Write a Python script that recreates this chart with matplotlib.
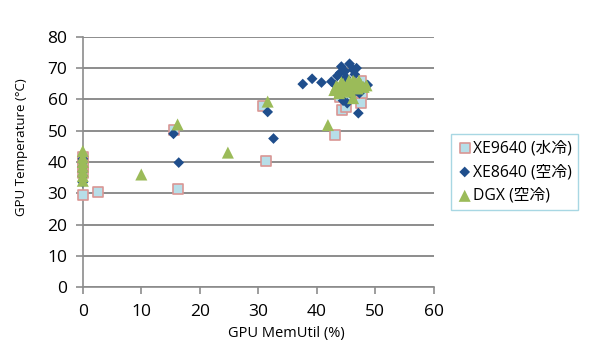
import matplotlib.pyplot as plt

plt.rcParams['font.family'] = ['Open Sans', 'Noto Sans CJK JP', 'DejaVu Sans']

# XE9640 (water cooled)
xe9640_x = [0, 0, 0, 0, 0, 2.6, 15.6, 16.3, 30.8, 31.3, 43.1, 44.3, 45.0, 43.9, 47.6, 47.8, 47.5, 44.8, 46.5, 45.5]
xe9640_y = [29.5, 38.5, 40.0, 41.5, 36.5, 30.3, 50.2, 31.5, 57.9, 40.3, 48.6, 56.6, 57.5, 60.9, 59.0, 62.2, 66.0, 64.0, 63.0, 61.5]

# XE8640 (air cooled)
xe8640_x = [0, 0, 0, 0, 0, 0, 15.5, 16.4, 31.6, 32.6, 37.6, 39.2, 40.8, 42.5, 43.5, 44.2, 44.8, 45.6, 46.2,
            46.8, 47.3, 47.1, 48.7, 44.5, 45.2, 46.0, 43.8, 47.8, 45.0, 46.5, 44.0, 43.2]
xe8640_y = [33.5, 35.5, 37.0, 38.5, 40.0, 41.0, 49.0, 39.8, 56.0, 47.5, 64.9, 66.6, 65.4, 65.7, 67.5, 70.5, 69.0, 71.4, 69.5,
            70.0, 62.0, 55.6, 64.6, 59.6, 58.8, 61.5, 63.5, 64.0, 67.0, 68.0, 68.5, 64.5]

# DGX (air cooled)
dgx_x = [0, 0, 0, 0, 0, 0, 0, 10.0, 16.2, 24.8, 31.6, 41.9, 43.0, 43.5, 44.0, 44.5, 45.0, 45.5, 46.0, 46.5,
         47.0, 47.5, 48.0, 48.5, 44.2, 45.2, 46.2, 47.2, 43.8, 45.8, 46.2, 44.8, 46.8, 43.3]
dgx_y = [43.5, 41.5, 40.0, 38.5, 37.0, 35.5, 34.0, 36.0, 52.0, 43.0, 59.3, 51.8, 63.0, 64.0, 62.5, 65.0, 63.5, 66.0, 64.5, 65.5,
         63.5, 65.0, 64.0, 64.5, 65.5, 64.5, 66.0, 66.0, 62.0, 62.5, 60.4, 63.0, 64.8, 64.2]

fig = plt.figure(figsize=(6.0, 3.51), dpi=100)
ax = fig.add_axes([0.138, 0.182, 0.585, 0.713])

ax.scatter(xe9640_x, xe9640_y, marker='s', s=42, facecolor='#B7DEE8', edgecolor='#D99694',
           linewidth=1.2, label='XE9640 (水冷)', zorder=3, clip_on=False)
ax.scatter(xe8640_x, xe8640_y, marker='D', s=30, color='#1F4E8C', edgecolor='none',
           label='XE8640 (空冷)', zorder=4, clip_on=False)
ax.scatter(dgx_x, dgx_y, marker='^', s=75, color='#9BBB59', edgecolor='none',
           label='DGX (空冷)', zorder=5, clip_on=False)

ax.set_xlim(0, 60)
ax.set_ylim(0, 80)
ax.set_xticks(range(0, 61, 10))
ax.set_yticks(range(0, 81, 10))
ax.yaxis.grid(True, color='#8C8C8C', linewidth=1.4)
ax.set_axisbelow(True)
for s in ['top', 'right']:
    ax.spines[s].set_visible(False)
for s in ['left', 'bottom']:
    ax.spines[s].set_color('#8C8C8C')
    ax.spines[s].set_linewidth(1.2)
ax.tick_params(axis='both', colors='#8C8C8C', length=5, width=1.2, labelsize=12.5, labelcolor='black')
ax.tick_params(axis='y', pad=6)
ax.tick_params(axis='x', pad=7)

ax.set_xlabel('GPU MemUtil (%)', fontsize=10.5)
ax.xaxis.set_label_coords(0.58, -0.155)
ax.set_ylabel('GPU Temperature (°C)', fontsize=9.5)
ax.yaxis.set_label_coords(-0.155, 0.56)

leg = ax.legend(loc='upper left', bbox_to_anchor=(1.05, 0.612), fontsize=11.3, frameon=True,
                fancybox=False, edgecolor='#92CDDC', handletextpad=0.1, borderpad=0.4,
                labelspacing=0.5, handlelength=0.9, markerscale=1.0, borderaxespad=0)
leg.get_frame().set_linewidth(1.0)

fig.savefig('out.png', dpi=100)
